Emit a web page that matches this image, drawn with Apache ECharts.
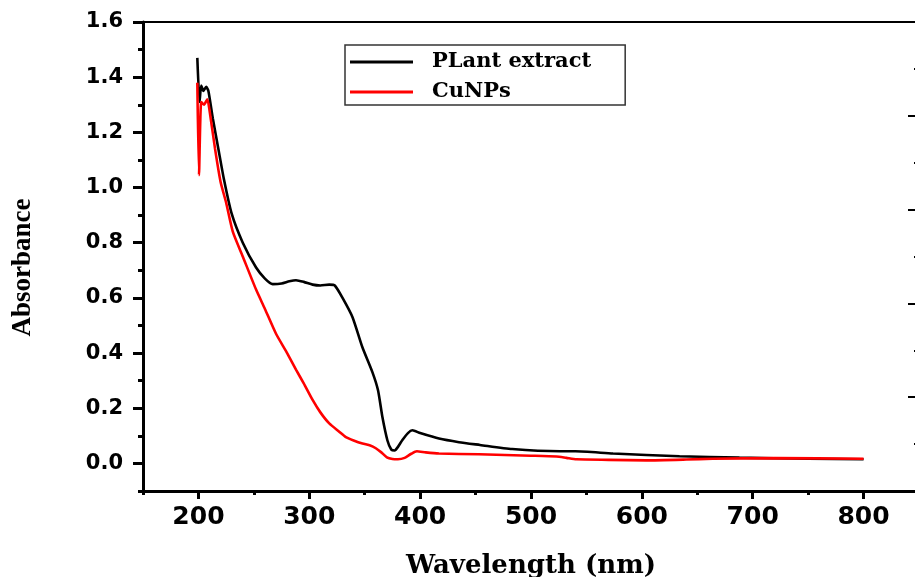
<!DOCTYPE html>
<html>
<head>
<meta charset="utf-8">
<title>UV-Vis absorbance</title>
<script src="https://cdn.jsdelivr.net/npm/echarts@6/dist/echarts.min.js"></script>
<style>
  html, body { margin: 0; padding: 0; background: #fff; }
  #chart { width: 915px; height: 577px; }
</style>
</head>
<body>
<div id="chart"></div>
<script>
// UV-Vis spectra: wavelength (nm) and absorbance for each sample
const plantWl  = [199, 201, 202.5, 204.5, 207, 209, 213, 218, 223, 230, 240, 252, 260, 267, 275, 282, 288, 295, 303, 310, 318, 323, 330, 339, 348, 357, 362, 366, 370.5, 374, 377, 380, 384, 389, 393, 400, 417, 435, 454, 483, 526, 540, 574, 634, 688, 750, 800];
const plantAbs = [1.47, 1.31, 1.37, 1.35, 1.365, 1.35, 1.25, 1.14, 1.03, 0.905, 0.80, 0.71, 0.67, 0.65, 0.652, 0.66, 0.664, 0.658, 0.648, 0.645, 0.648, 0.645, 0.60, 0.53, 0.42, 0.33, 0.265, 0.167, 0.083, 0.05, 0.047, 0.06, 0.085, 0.11, 0.12, 0.11, 0.09, 0.077, 0.067, 0.052, 0.044, 0.044, 0.036, 0.026, 0.021, 0.017, 0.015];

const cuWl  = [199, 200.5, 202.5, 205, 208, 210, 215, 220, 225, 231, 240, 252, 260, 270, 280, 288, 295, 303, 310, 318, 327, 333, 340, 348, 355, 360, 365, 370, 375, 380, 386, 392, 397, 405, 417, 453, 500, 523, 532, 541, 570, 604, 640, 664, 720, 800];
const cuAbs = [1.38, 1.045, 1.31, 1.30, 1.32, 1.28, 1.14, 1.02, 0.945, 0.84, 0.75, 0.63, 0.56, 0.47, 0.40, 0.34, 0.29, 0.23, 0.185, 0.145, 0.115, 0.095, 0.083, 0.072, 0.065, 0.055, 0.04, 0.022, 0.016, 0.015, 0.02, 0.035, 0.044, 0.04, 0.036, 0.033, 0.028, 0.025, 0.02, 0.015, 0.013, 0.011, 0.014, 0.017, 0.019, 0.017];

const seriesNames = ['PLant extract', 'CuNPs'];

// Axis ticks and labels
const xMajor = [200, 300, 400, 500, 600, 700, 800];
const xMinor = [150, 250, 350, 450, 550, 650, 750];
const yMajor = [0, 0.2, 0.4, 0.6, 0.8, 1.0, 1.2, 1.4, 1.6];
const yMinor = [-0.1, 0.1, 0.3, 0.5, 0.7, 0.9, 1.1, 1.3, 1.5];

const zip = (xs, ys) => xs.map((x, i) => [x, ys[i]]);

const tickFont = { fontFamily: 'DejaVu Sans', fontWeight: 'bold', color: '#000' };
const titleFontX = { fontFamily: 'DejaVu Serif', fontWeight: 'bold', fontSize: 26, color: '#000' };
const titleFontY = { fontFamily: 'Liberation Serif', fontWeight: 'bold', fontSize: 27, color: '#000', padding: [0, 22, 0, 0] };

const chart = echarts.init(document.getElementById('chart'), null, { renderer: 'canvas' });

chart.setOption({
  animation: false,
  backgroundColor: '#fff',
  grid: { left: 143, right: -4, top: 22, bottom: 86, containLabel: false, outerBoundsMode: 'none' },
  legend: {
    data: seriesNames,
    orient: 'vertical',
    left: 345,
    top: 45,
    padding: [5, 34, 1, 5],
    itemGap: 6,
    itemWidth: 63,
    itemHeight: 3,
    icon: 'rect',
    borderColor: '#333',
    borderWidth: 1.5,
    textStyle: { fontFamily: 'DejaVu Serif', fontWeight: 'bold', fontSize: 21, lineHeight: 24, color: '#000', padding: [0, 0, 0, 14] }
  },
  xAxis: [
    {
      type: 'value', min: 150, max: 850, position: 'bottom',
      axisLine: { onZero: false, lineStyle: { color: '#000', width: 3 } },
      axisTick: { customValues: xMajor, length: 8, lineStyle: { color: '#000', width: 3 } },
      axisLabel: Object.assign({ customValues: xMajor, fontSize: 25, margin: 14 }, tickFont),
      splitLine: { show: false },
      name: 'Wavelength (nm)', nameLocation: 'middle', nameGap: 62,
      nameTextStyle: titleFontX
    },
    {
      type: 'value', min: 150, max: 850, position: 'bottom',
      axisLine: { show: false, onZero: false },
      axisTick: { customValues: xMinor, length: 4, lineStyle: { color: '#000', width: 3 } },
      axisLabel: { show: false },
      splitLine: { show: false }
    },
    {
      type: 'value', min: 150, max: 850, position: 'top',
      axisLine: { onZero: false, lineStyle: { color: '#000', width: 2 } },
      axisTick: { show: false },
      axisLabel: { show: false },
      splitLine: { show: false }
    }
  ],
  yAxis: [
    {
      type: 'value', min: -0.1, max: 1.6, position: 'left',
      axisLine: { onZero: false, lineStyle: { color: '#000', width: 3 } },
      axisTick: { customValues: yMajor, length: 10, lineStyle: { color: '#000', width: 3 } },
      axisLabel: Object.assign({ customValues: yMajor, fontSize: 21, margin: 20, formatter: v => v.toFixed(1) }, tickFont),
      splitLine: { show: false },
      name: 'Absorbance', nameLocation: 'middle', nameGap: 106, nameRotate: 90,
      nameTextStyle: titleFontY
    },
    {
      type: 'value', min: -0.1, max: 1.6, position: 'left',
      axisLine: { show: false, onZero: false },
      axisTick: { customValues: yMinor, length: 5, lineStyle: { color: '#000', width: 3 } },
      axisLabel: { show: false },
      splitLine: { show: false }
    },
    {
      type: 'value', min: 0, max: 5, interval: 1, position: 'right',
      axisLine: { show: false, onZero: false },
      axisTick: { inside: true, length: 11, lineStyle: { color: '#000', width: 2 } },
      minorTick: { show: true, splitNumber: 2, length: 5, lineStyle: { color: '#000', width: 2 } },
      axisLabel: { show: false },
      splitLine: { show: false }
    }
  ],
  series: [
    {
      name: seriesNames[0], type: 'line', xAxisIndex: 0, yAxisIndex: 0,
      data: zip(plantWl, plantAbs), symbol: 'none', smooth: 0.2,
      color: '#000', lineStyle: { color: '#000', width: 2.6 }
    },
    {
      name: seriesNames[1], type: 'line', xAxisIndex: 0, yAxisIndex: 0,
      data: zip(cuWl, cuAbs), symbol: 'none', smooth: 0.2,
      color: '#ff0000', lineStyle: { color: '#ff0000', width: 2.6 }
    }
  ]
});
</script>
</body>
</html>
